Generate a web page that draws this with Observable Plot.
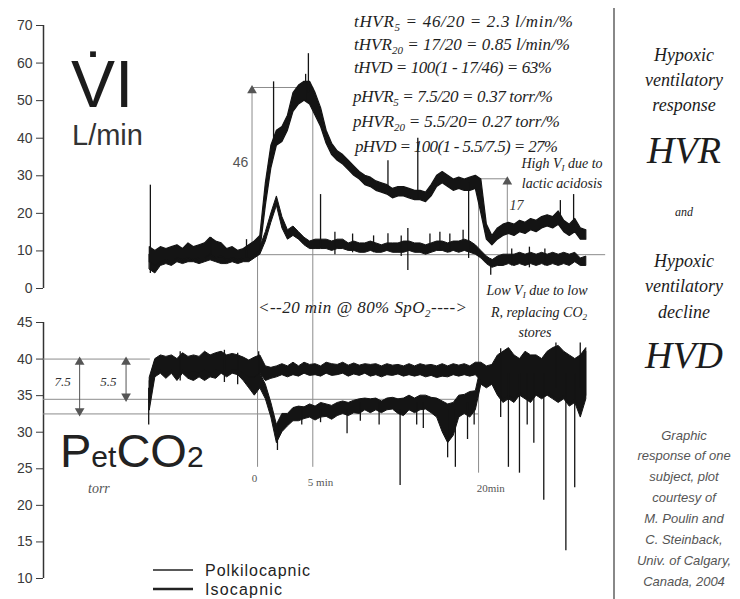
<!DOCTYPE html>
<html>
<head>
<meta charset="utf-8">
<script src="https://cdn.jsdelivr.net/npm/d3@7"></script>
<script src="https://cdn.jsdelivr.net/npm/@observablehq/plot@0.6"></script>
<style>
  html, body { margin: 0; padding: 0; background: #fff; }
  #wrap { position: relative; width: 740px; height: 599px; background: #fff; overflow: hidden; }
  #top, #bottom { position: absolute; left: 0; }
  #top { top: 0; }
  #bottom { top: 300px; }
  #ov { position: absolute; left: 0; top: 0; pointer-events: none; }
</style>
</head>
<body>
<div id="wrap">
  <div id="top"></div>
  <div id="bottom"></div>
  <svg id="ov" width="740" height="599">
    <g font-family="Liberation Sans, Arial, sans-serif" fill="#1c1c1c">
      <text x="71" y="107" font-size="66">V&#775;I</text>
      <text x="72" y="145" font-size="29" fill="#333">L/min</text>
      <text x="60" y="467" fill="#222"><tspan font-size="47">P</tspan><tspan font-size="30">et</tspan><tspan font-size="47">CO</tspan><tspan font-size="30">2</tspan></text>
    </g>
    <text x="88" y="493" font-family="Liberation Serif, serif" font-style="italic" font-size="14" fill="#555">torr</text>

    <g font-family="Liberation Serif, serif" font-style="italic" font-size="17" fill="#1e1e1e">
      <text x="354" y="27" textLength="219">tHVR<tspan font-size="11" dy="4">5</tspan><tspan dy="-4"> = 46/20 = 2.3   l/min/%</tspan></text>
      <text x="354" y="50" textLength="216">tHVR<tspan font-size="11" dy="4">20</tspan><tspan dy="-4"> = 17/20 = 0.85 l/min/%</tspan></text>
      <text x="354" y="73" textLength="198">tHVD = 100(1 - 17/46) = 63%</text>
      <text x="353" y="102" textLength="200">pHVR<tspan font-size="11" dy="4">5</tspan><tspan dy="-4"> = 7.5/20 = 0.37 torr/%</tspan></text>
      <text x="353" y="127" textLength="207">pHVR<tspan font-size="11" dy="4">20</tspan><tspan dy="-4"> = 5.5/20= 0.27 torr/%</tspan></text>
      <text x="355" y="152" textLength="203">pHVD = 100(1 - 5.5/7.5) = 27%</text>
    </g>

    <g font-family="Liberation Serif, serif" font-style="italic" font-size="14" fill="#222" text-anchor="middle">
      <text x="562" y="168">High V<tspan font-size="9" dy="3">I</tspan><tspan dy="-3"> due to</tspan></text>
      <text x="562" y="188">lactic acidosis</text>
      <text x="537" y="295">Low V<tspan font-size="9" dy="3">I</tspan><tspan dy="-3"> due to low</tspan></text>
      <text x="539" y="317">R, replacing CO<tspan font-size="9" dy="3">2</tspan></text>
      <text x="535" y="337">stores</text>
    </g>
    <text x="258" y="313" font-family="Liberation Serif, serif" font-style="italic" font-size="17" fill="#222" textLength="209">&lt;--20 min @ 80% SpO<tspan font-size="11" dy="4">2</tspan><tspan dy="-4">----&gt;</tspan></text>

    <g stroke="#222">
      <line x1="153" y1="570" x2="193" y2="570" stroke-width="1.5"/>
      <line x1="153" y1="589" x2="193" y2="589" stroke-width="2.5"/>
    </g>
    <g font-family="Liberation Sans, Arial, sans-serif" font-size="16" fill="#222">
      <text x="205" y="576" textLength="105">Polkilocapnic</text>
      <text x="205" y="595" textLength="77">Isocapnic</text>
    </g>

    <line x1="614" y1="8" x2="614" y2="599" stroke="#888" stroke-width="2"/>
    <g font-family="Liberation Serif, serif" font-style="italic" fill="#1c1c1c" text-anchor="middle">
      <text x="684" y="61" font-size="18">Hypoxic</text>
      <text x="684" y="86" font-size="18">ventilatory</text>
      <text x="684" y="111" font-size="18">response</text>
      <text x="684" y="163" font-size="38">HVR</text>
      <text x="684" y="216" font-size="12">and</text>
      <text x="684" y="267" font-size="18">Hypoxic</text>
      <text x="684" y="292" font-size="18">ventilatory</text>
      <text x="684" y="318" font-size="18">decline</text>
      <text x="684" y="368" font-size="38">HVD</text>
    </g>
    <g font-family="Liberation Sans, Arial, sans-serif" font-style="italic" font-size="13" fill="#555" text-anchor="middle">
      <text x="684" y="440">Graphic</text>
      <text x="684" y="460">response of one</text>
      <text x="684" y="481">subject, plot</text>
      <text x="684" y="502">courtesy of</text>
      <text x="684" y="523">M. Poulin and</text>
      <text x="684" y="544">C. Steinback,</text>
      <text x="684" y="565">Univ. of Calgary,</text>
      <text x="684" y="586">Canada, 2004</text>
    </g>
  </svg>
</div>
<script>
// ---- sampling times (minutes from onset of hypoxia) ----
const timeMin = [-9.75,-9.25,-8.75,-8.25,-7.75,-7.25,-6.75,-6.25,-5.75,-5.25,-4.75,-4.25,-3.75,-3.25,-2.75,-2.25,-1.75,-1.25,-0.75,-0.25,0.25,0.75,1.25,1.75,2.25,2.75,3.25,3.75,4.25,4.75,5.25,5.75,6.25,6.75,7.25,7.75,8.25,8.75,9.25,9.75,10.25,10.75,11.25,11.75,12.25,12.75,13.25,13.75,14.25,14.75,15.25,15.75,16.25,16.75,17.25,17.75,18.25,18.75,19.25,19.75,20.25,20.75,21.25,21.75,22.25,22.75,23.25,23.75,24.25,24.75,25.25,25.75,26.25,26.75,27.25,27.75,28.25,28.75,29.25,29.75];

// ---- Ventilation VI (L/min): noise band low / high ----
const viIsoLo = [7,6,7,7.5,7,8,7.5,8,7.5,8,8,9,8,8.5,7.5,8,7.5,8,8,9,
  10,22,32,38,39,42,47,49,50,49,46,43,38.5,35.5,34,33,31.5,30,29,27.5,
  27,26,25.5,25,24,24.5,24.5,24,23.5,23.5,23,24.5,27,28,27,26,26.5,26,26,26.5,
  20,13,11.5,13,14,14.5,14,15,14.5,15.5,15,16,16.5,16,17,15,14,15,13,13];
const viIsoHi = [11,10,11,10.5,11,11.5,10.5,12,11,11.5,12,13.5,12.5,12,10.5,11,10,10.5,11.5,12.5,
  14,28,38,42,43,46,52,54,55,55,52,48,42,38.5,36.5,35.5,34,32.5,31,30,
  29.5,28.5,28,27.5,26.5,27,27,26.5,26,26,25.5,27.5,30,31,30,29,29.5,29,29.5,30,
  29,17,14,16,17,17.5,17,18,17.5,18.5,18,19,19.5,19,20.5,18,17,18.5,16,15.5];
const viPoikLo = [5,4,6,6.5,6,7,6.5,7,7,6.5,7,7.5,7,6.5,6.5,7,6.5,7,7,8,
  9,12.5,17.5,22,16,13,14,13,11.5,10.5,10.5,10.5,10.5,10,10.5,10.5,10,10,9.5,9.5,
  10,9.5,9.5,10,9.5,9.5,9.5,10,9.5,9.5,9,9.5,10,10,9.5,10,9.5,10,9.5,9,
  8,6.5,5.5,6,6,6.5,6,6.5,6,6.5,6,6.5,6,6.5,6,6.5,6,7,6,6];
const viPoikHi = [9,8,9,9,9.5,10,9.5,10,9.5,10,10.5,10.5,10,9.5,9,9.5,9,9.5,10,11,
  11,15,20,24.5,19,15.5,16.5,15,13.5,12.5,13,13,13,12.5,13,13,12,12.5,12,12,
  12.5,12,11.5,12,12,12,12.5,12.5,12,12,11.5,12,12.5,12.5,12,12.5,12.5,13,12.5,11.5,
  10,8.5,7.5,8.5,9,9,9,9.5,9,9.5,9,9.5,9,9.5,9,9.5,9,9.5,8,8.5];
// isolated spikes in VI traces
const viSpikeT  = [-9.7, -4.2, -1.0, 1.45, 4.35, 4.6, 5.7, 7.0, 8.6, 10.5, 11.8, 11.8, 13.0, 13.6, 14.5, 15.6, 16.5, 17.4, 18.6, 19.1, 21.1, 23.0, 24.6, 26.0, 27.4, 28.6];
const viSpikeLo = [4, 9, 8, 37, 50, 52, 11, 9, 9.5, 9.5, 27, 10, 8.5, 4.8, 23.5, 9.5, 10, 9.5, 10, 8, 3.5, 6, 5.5, 6, 18, 16];
const viSpikeHi = [27.5, 13.5, 13, 55, 57, 62.5, 25, 15, 14.5, 14, 34, 14.6, 14, 16, 40, 14.5, 15, 14.5, 15.5, 28, 8, 10.5, 11, 10.5, 23.4, 25];

// ---- PetCO2 (torr): noise band low / high ----
const co2IsoLo = [34,38,38.5,38,38.5,37.8,38.5,38,38.3,38,38.5,38,38.5,38.3,38,38.5,38.5,38,37.5,37.5,
  38,37,37.3,37.5,37.8,37.5,37.8,37.6,38,37.7,37.8,37.6,38,37.7,37.8,38,37.6,37.9,37.7,38,
  37.6,37.8,37.5,37.8,37.7,37.9,37.6,37.8,37.6,37.8,37.5,37.7,37.4,37.6,37.5,37.8,37.6,37.8,37.6,37.8,
  37,36.5,36.8,35.5,34.5,35,34.5,35.5,35,34.5,35.5,35,35.5,35,34.5,35,34,34.5,33,35];
const co2IsoHi = [37.5,40,40.5,40.3,40.5,40,40.8,40.3,40.5,40.3,41,40.5,40.8,41,40.5,40.7,40.5,40.2,39.8,40.2,
  40.5,39,38.8,39,39.3,39,39.5,39,39.5,39.2,39.3,39,39.5,39.3,39.2,39.5,39.1,39.4,39.1,39.3,
  39.2,39.3,39,39.3,39.1,39.2,39,39.3,39,39.3,39.1,39.2,39,39.3,39,39.3,39.1,39.3,39,39.5,
  39.5,39,39.2,40.5,41,41.5,40.5,40,41,40.5,40.5,40,41,41.5,41.8,41,40.5,40,40.5,41.5];
const co2PoikLo = [33,37.5,38,37.3,38,37,38,37.3,37,37.5,37,37.5,37.3,38,37.5,38,37.8,37,36,35,
  36,34.5,32,28.5,30,30.8,31.5,31.5,31.8,32,31.6,32,32.1,31.7,32.2,32.5,32.2,32.6,32.5,33,
  32.6,33,32.6,33,33.1,32.5,32.2,33,32.6,33,33.1,32.6,32,30,28.5,29.5,32,32.5,32,33,
  36.5,36,36.5,35,34,34.5,34,35,34.5,34,35,34.5,35,34.5,34,34.5,33.5,34,32,34.5];
const co2PoikHi = [37,39.8,40,39.5,40,39.3,40,39.8,39,39.5,39.3,39.7,40,40.2,39.7,40,40,39.5,38.5,37.8,
  38,36.5,34,31,32.5,32.5,33.3,33.5,33.4,33.8,33.5,34,33.8,33.6,34,34.2,34,34.3,34.5,34.6,
  34.5,34.6,34.2,34.6,34.7,34.5,34.6,35,34.6,35,35,34.7,34.6,34.2,33.8,34,35,35.1,35.5,35.6,
  39,38.5,38.8,40,40.5,41,40,39.5,40.5,40,40,39.5,40.5,41,41.2,40.5,40,39.5,40,41];
const co2SpikeT  = [-9.85, -7.0, -3.0, -1.8, 0.1, 1.8, 4.0, 5.7, 8.1, 9.3, 11.0, 12.9, 14.4, 15.0, 17.2, 17.9, 19.0, 19.6, 22.0, 22.7, 23.7, 24.4, 25.0, 25.9, 27.0, 27.9, 28.7, 29.2];
const co2SpikeLo = [31, 37, 36.8, 36.5, 38, 27.5, 31, 31.3, 29.8, 31.5, 31, 22.7, 31, 30.5, 26.5, 25.2, 29, 31, 32, 25.2, 24.4, 31, 28.5, 20.7, 36, 13.8, 22.4, 36];
const co2SpikeHi = [36, 41, 41.2, 40.8, 41, 31, 33, 33, 33, 34, 34, 33, 34, 34, 33, 33, 34, 35, 41.4, 38, 38, 38, 38, 38, 42.2, 38, 38, 42.2];

// ---- axis ticks ----
const viTicks = [0, 10, 20, 30, 40, 50, 60, 70];
const co2Ticks = [10, 15, 20, 25, 30, 35, 40, 45];

// ---- annotation values ----
const viBaseline = 9;          // resting VI reference line
const hvr5Top = 53.5;          // top of "46" bracket
const hvr20Top = 29.2;         // top of "17" bracket
const hvr5ArrowT = -0.5;
const hvr20ArrowT = 22.6;
const markTimes = [0, 5, 20];
const markLabels = ["0", "5 min", "20min"];
const markLabelT = [-0.27, 5.7, 21.1];
const markLabelV = [23.7, 23.1, 22.3];
const co2Levels = [40, 34.5, 32.5];     // baseline, isocapnic and poikilocapnic levels
const co2ArrowT = [-16.1, -11.9];
const co2ArrowLabels = ["7.5", "5.5"];
const co2ArrowLabelT = [-17.65, -13.5];

const xDomain = [-19.37, 32.3];
const band = (lo, hi) => timeMin.map((t, i) => ({t, lo: lo[i], hi: hi[i]}));
const spikes = (T, lo, hi) => T.map((t, i) => ({t, lo: lo[i], hi: hi[i]}));
const ink = "#141414", guide = "#8c8c8c";
const axisStyle = {fontFamily: "Liberation Sans, Arial, sans-serif", fontSize: "14px", color: "#3a3a3a", background: "transparent", overflow: "visible"};
const tri = (pts, rot, dy) => Plot.dot(pts, {x: "t", y: "v", symbol: "triangle", r: 3.6, fill: "#555", stroke: null, rotate: rot, dy});

const topPlot = Plot.plot({
  width: 614, height: 300,
  marginLeft: 43, marginRight: 0, marginTop: 25, marginBottom: 12,
  style: axisStyle,
  x: {domain: xDomain, axis: null},
  y: {domain: [0, 70], ticks: viTicks, tickSize: 7, tickPadding: 4, label: null},
  marks: [
    Plot.ruleX([xDomain[0]], {y1: 0, y2: 70, stroke: "#333", strokeWidth: 1.5}),
    Plot.ruleY([viBaseline], {x1: 0, x2: 31.5, stroke: guide}),
    Plot.ruleY([hvr5Top], {x1: hvr5ArrowT, x2: 5, stroke: guide}),
    Plot.ruleY([hvr20Top], {x1: 20, x2: hvr20ArrowT, stroke: guide}),
    Plot.ruleX([hvr5ArrowT], {y1: viBaseline, y2: hvr5Top, stroke: guide}),
    Plot.ruleX([hvr20ArrowT], {y1: viBaseline, y2: hvr20Top, stroke: guide}),
    Plot.ruleX([markTimes[0]], {y1: viBaseline, y2: -3.3, stroke: guide}),
    Plot.ruleX([markTimes[1]], {y1: hvr5Top, y2: -3.3, stroke: guide}),
    Plot.ruleX([markTimes[2]], {y1: hvr20Top, y2: -3.3, stroke: guide}),
    tri([{t: hvr5ArrowT, v: hvr5Top}, {t: hvr20ArrowT, v: hvr20Top}], 0, 3),
    tri([{t: hvr5ArrowT, v: viBaseline}], 180, -3),
    Plot.areaY(band(viPoikLo, viPoikHi), {x: "t", y1: "lo", y2: "hi", fill: ink, stroke: ink, strokeWidth: 1}),
    Plot.areaY(band(viIsoLo, viIsoHi), {x: "t", y1: "lo", y2: "hi", fill: ink, stroke: ink, strokeWidth: 1.2}),
    Plot.ruleX(spikes(viSpikeT, viSpikeLo, viSpikeHi), {x: "t", y1: "lo", y2: "hi", stroke: ink, strokeWidth: 1.3}),
    Plot.text([{t: -1.55, v: 33.5, s: "46"}], {x: "t", y: "v", text: "s", fontSize: 14, fill: "#555"}),
    Plot.text([{t: 23.44, v: 22.1, s: "17"}], {x: "t", y: "v", text: "s", fontSize: 14, fill: "#333", fontFamily: "Liberation Serif, serif", fontStyle: "italic"})
  ]
});
document.getElementById("top").appendChild(topPlot);

const bottomPlot = Plot.plot({
  width: 614, height: 299,
  marginLeft: 43, marginRight: 0, marginTop: 22, marginBottom: 21,
  style: axisStyle,
  x: {domain: xDomain, axis: null},
  y: {domain: [10, 45], ticks: co2Ticks, tickSize: 7, tickPadding: 4, label: null},
  marks: [
    Plot.ruleX([xDomain[0]], {y1: 10, y2: 45, stroke: "#333", strokeWidth: 1.5}),
    Plot.ruleY([co2Levels[0]], {x1: xDomain[0], x2: -9.7, stroke: guide}),
    Plot.ruleY(co2Levels.slice(1), {x1: xDomain[0], x2: 20, stroke: guide}),
    Plot.ruleX(markTimes.slice(0, 2), {y1: 48, y2: 25.2, stroke: guide}),
    Plot.ruleX(markTimes.slice(2), {y1: 48, y2: 24.4, stroke: guide}),
    Plot.ruleX([co2ArrowT[0]], {y1: co2Levels[0], y2: co2Levels[2], stroke: "#555"}),
    Plot.ruleX([co2ArrowT[1]], {y1: co2Levels[0], y2: co2Levels[1], stroke: "#555"}),
    tri([{t: co2ArrowT[0], v: co2Levels[0]}, {t: co2ArrowT[1], v: co2Levels[0]}], 0, 3),
    tri([{t: co2ArrowT[0], v: co2Levels[2]}, {t: co2ArrowT[1], v: co2Levels[1]}], 180, -3),
    Plot.text(co2ArrowLabels.map((s, i) => ({s, t: co2ArrowLabelT[i], v: 36.9})), {x: "t", y: "v", text: "s", fontSize: 13, fill: "#333", fontFamily: "Liberation Serif, serif", fontStyle: "italic"}),
    Plot.text(markLabels.map((s, i) => ({s, t: markLabelT[i], v: markLabelV[i]})), {x: "t", y: "v", text: "s", fontSize: 11, fill: "#555", fontFamily: "Liberation Serif, serif"}),
    Plot.areaY(band(co2PoikLo, co2PoikHi), {x: "t", y1: "lo", y2: "hi", fill: ink, stroke: ink, strokeWidth: 1}),
    Plot.areaY(band(co2IsoLo, co2IsoHi), {x: "t", y1: "lo", y2: "hi", fill: ink, stroke: ink, strokeWidth: 1}),
    Plot.ruleX(spikes(co2SpikeT, co2SpikeLo, co2SpikeHi), {x: "t", y1: "lo", y2: "hi", stroke: ink, strokeWidth: 1.3})
  ]
});
document.getElementById("bottom").appendChild(bottomPlot);
</script>
</body>
</html>
